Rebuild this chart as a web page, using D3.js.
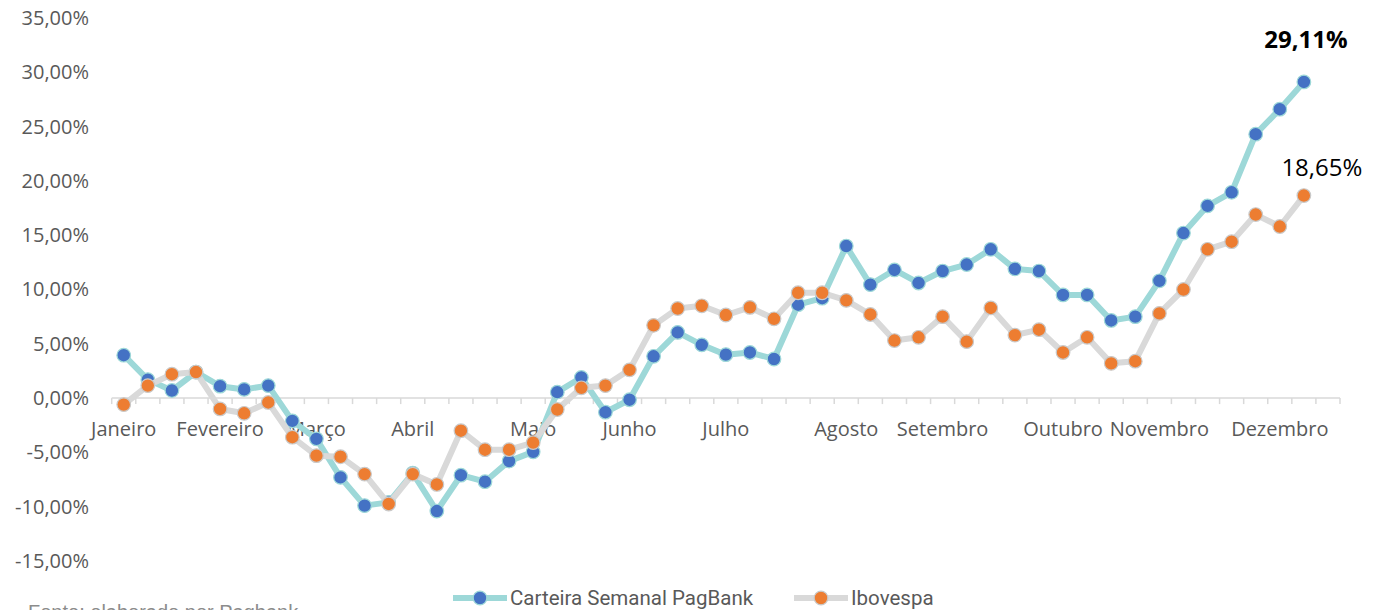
<!DOCTYPE html>
<html>
<head>
<meta charset="utf-8">
<script src="https://cdn.jsdelivr.net/npm/d3@7"></script>
<style>
  body { margin: 0; background: #fff; }
  svg { display: block; }
</style>
</head>
<body>
<div class="container"></div>
<script>
// semanas (51 categorias, a última vazia); só a primeira semana de cada mês tem rótulo
const weekLabels = [
  'Janeiro', '', '', '', 'Fevereiro', '', '', '', 'Março', '', '', '', 'Abril', '', '', '', '',
  'Maio', '', '', '', 'Junho', '', '', '', 'Julho', '', '', '', '', 'Agosto', '', '', '', 'Setembro',
  '', '', '', '', 'Outubro', '', '', '', 'Novembro', '', '', '', '', 'Dezembro', '', ''
];

const carteira = [
  3.95, 1.7, 0.7, 2.4, 1.1, 0.8, 1.15, -2.1, -3.75, -7.3, -9.9, -9.6, -6.9, -10.4, -7.1, -7.7, -5.8,
  -4.95, 0.55, 1.9, -1.3, -0.15, 3.85, 6.05, 4.9, 4.0, 4.2, 3.6, 8.6, 9.2, 14.0, 10.45, 11.8, 10.6,
  11.7, 12.3, 13.7, 11.9, 11.7, 9.5, 9.5, 7.15, 7.5, 10.8, 15.2, 17.7, 18.95, 24.3, 26.6, 29.11
];

const ibovespa = [
  -0.6, 1.15, 2.2, 2.4, -1.0, -1.4, -0.4, -3.6, -5.3, -5.4, -7.0, -9.75, -7.0, -7.95, -3.0, -4.75,
  -4.75, -4.1, -1.05, 0.95, 1.15, 2.6, 6.7, 8.25, 8.5, 7.65, 8.35, 7.3, 9.7, 9.7, 9.0, 7.7, 5.3, 5.6,
  7.5, 5.2, 8.3, 5.8, 6.3, 4.2, 5.6, 3.2, 3.4, 7.8, 10.0, 13.7, 14.4, 16.9, 15.8, 18.65
];

const yTicks = [-15, -10, -5, 0, 5, 10, 15, 20, 25, 30, 35];
const seriesNames = ['Carteira Semanal PagBank', 'Ibovespa'];

const width = 1373;
const height = 610;
const plotLeft = 111.7;
const plotRight = 1340;
const plotTop = 18;
const plotBottom = 561;

const fmt = (v) => v.toFixed(2).replace('.', ',') + '%';

const x = d3.scaleBand().domain(d3.range(weekLabels.length)).range([plotLeft, plotRight]).padding(0);
const y = d3.scaleLinear().domain([-15, 35]).range([plotBottom, plotTop]);
const cx = (i) => x(i) + x.bandwidth() / 2;

const svg = d3.select('.container')
  .append('svg')
  .attr('width', width)
  .attr('height', height)
  .style('font-family', '"Open Sans", sans-serif');

// eixo y (só rótulos)
const yAxis = d3.axisLeft(y).tickValues(yTicks).tickFormat(fmt).tickSize(0).tickPadding(0);
svg.append('g')
  .attr('transform', `translate(89, 0)`)
  .call(yAxis)
  .call((g) => g.select('.domain').remove())
  .selectAll('text')
  .attr('fill', '#595959')
  .style('font-size', '20px')
  .style('font-family', '"Open Sans", sans-serif');

// eixo x em y = 0
const axisG = svg.append('g').attr('transform', `translate(0, ${y(0)})`);
axisG.append('line')
  .attr('x1', plotLeft).attr('x2', plotRight)
  .attr('stroke', '#d9d9d9').attr('stroke-width', 1.5);

const boundaries = d3.range(weekLabels.length + 1).map((i) => (i < weekLabels.length ? x(i) : plotRight));
axisG.selectAll('line.tick')
  .data(boundaries)
  .join('line')
  .attr('class', 'tick')
  .attr('x1', (d) => d).attr('x2', (d) => d)
  .attr('y1', 0).attr('y2', 6)
  .attr('stroke', '#d9d9d9').attr('stroke-width', 1.5);

axisG.selectAll('text.month')
  .data(weekLabels.map((l, i) => ({ l, i })).filter((d) => d.l))
  .join('text')
  .attr('class', 'month')
  .attr('x', (d) => cx(d.i))
  .attr('y', 38)
  .attr('text-anchor', 'middle')
  .attr('fill', '#595959')
  .style('font-size', '20px')
  .text((d) => d.l);

const styles = [
  { line: '#9dd8d8', fill: '#4472c4', stroke: '#9dd8d8' },
  { line: '#d9d9d9', fill: '#ed7d31', stroke: '#c9c9c9' },
];

const line = d3.line().x((d, i) => cx(i)).y((d) => y(d));

[carteira, ibovespa].forEach((data, k) => {
  const g = svg.append('g');
  g.append('path')
    .datum(data)
    .attr('d', line)
    .attr('fill', 'none')
    .attr('stroke', styles[k].line)
    .attr('stroke-width', 6)
    .attr('stroke-linejoin', 'round');
  g.selectAll('circle')
    .data(data)
    .join('circle')
    .attr('cx', (d, i) => cx(i))
    .attr('cy', (d) => y(d))
    .attr('r', 6.8)
    .attr('fill', styles[k].fill)
    .attr('stroke', styles[k].stroke)
    .attr('stroke-width', 1.2);
});

// rótulos do último ponto
const last = carteira.length - 1;
svg.append('text')
  .attr('x', cx(last) + 2)
  .attr('y', y(carteira[last]) - 34)
  .attr('text-anchor', 'middle')
  .attr('font-weight', 'bold')
  .attr('fill', '#000')
  .style('font-size', '24px')
  .text(fmt(carteira[last]));

svg.append('text')
  .attr('x', cx(last) + 18)
  .attr('y', y(ibovespa[last]) - 20)
  .attr('text-anchor', 'middle')
  .attr('fill', '#000')
  .style('font-size', '24px')
  .text(fmt(ibovespa[last]));

// legenda
const legend = svg.append('g').attr('transform', `translate(0, 598)`);
const legendX = [453, 794];
seriesNames.forEach((name, k) => {
  const g = legend.append('g').attr('transform', `translate(${legendX[k]}, 0)`);
  g.append('line')
    .attr('x1', 0).attr('x2', 54)
    .attr('stroke', styles[k].line).attr('stroke-width', 6);
  g.append('circle')
    .attr('cx', 27).attr('r', 6.8)
    .attr('fill', styles[k].fill)
    .attr('stroke', styles[k].stroke).attr('stroke-width', 1.2);
  g.append('text')
    .attr('x', 57)
    .attr('dy', '0.35em')
    .attr('fill', '#595959')
    .style('font-size', '20.5px')
    .style('font-family', 'Roboto, sans-serif')
    .text(name);
});

svg.append('text')
  .attr('x', 28)
  .attr('y', 619)
  .attr('fill', '#8c8c8c')
  .style('font-size', '20px')
  .style('font-family', '"Liberation Sans", sans-serif')
  .text('Fonte: elaborado por Pagbank');
</script>
</body>
</html>
